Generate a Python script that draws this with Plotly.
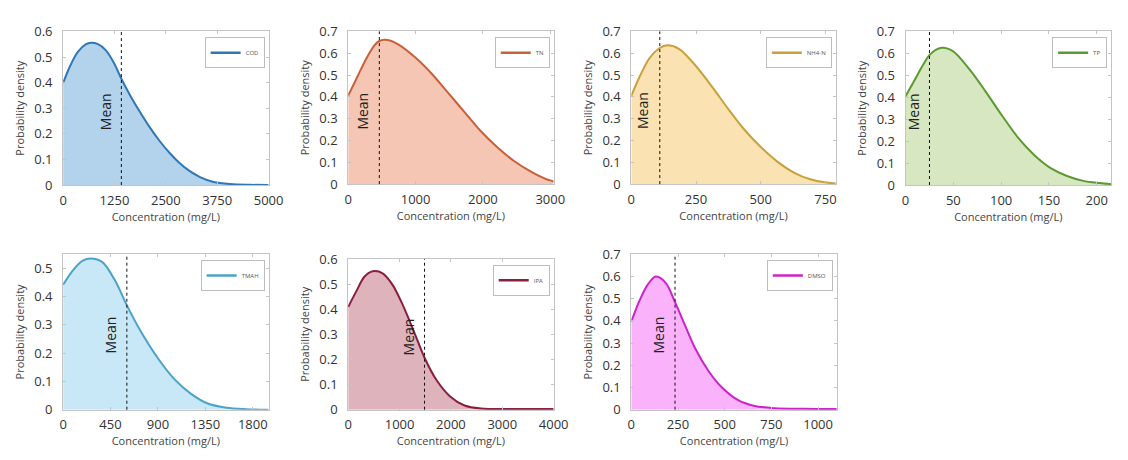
import plotly.graph_objects as go

# page body margin of the browser (8px) is compensated for
OFF = 8
W, H = 1128 - OFF, 460 - OFF

names = ["COD", "TN", "NH4-N", "TP", "TMAH", "IPA", "DMSO"]

cod_x = [0, 159, 358, 557, 677, 836, 1035, 1234, 1417, 1632, 1871, 2110, 2349, 2588, 2826, 3065, 3344, 3662, 4061, 4538, 5000]
cod_y = [0.398, 0.461, 0.520, 0.550, 0.556, 0.551, 0.527, 0.478, 0.415, 0.350, 0.285, 0.225, 0.172, 0.126, 0.087, 0.056, 0.030, 0.012, 0.004, 0.001, 0.0]

tn_x = [0, 122, 268, 389, 462, 540, 630, 754, 997, 1240, 1484, 1727, 1970, 2213, 2457, 2700, 2943, 3050]
tn_y = [0.406, 0.483, 0.575, 0.636, 0.656, 0.662, 0.657, 0.638, 0.580, 0.506, 0.418, 0.330, 0.242, 0.169, 0.107, 0.059, 0.022, 0.012]

nh4_x = [0, 32, 70, 110, 139, 184, 247, 311, 374, 437, 501, 564, 628, 691, 754, 790]
nh4_y = [0.404, 0.492, 0.577, 0.624, 0.636, 0.620, 0.545, 0.448, 0.345, 0.249, 0.169, 0.103, 0.053, 0.022, 0.007, 0.003]

tp_x = [0, 8.5, 18.8, 24.9, 37.5, 49.5, 66.5, 83.6, 100.7, 117.7, 134.8, 151.9, 168.9, 186, 203, 215]
tp_y = [0.405, 0.471, 0.551, 0.592, 0.625, 0.610, 0.529, 0.427, 0.318, 0.216, 0.136, 0.077, 0.041, 0.019, 0.009, 0.004]

tmah_x = [0, 93, 186, 264, 373, 497, 605, 745, 901, 1056, 1211, 1366, 1553, 1739, 1950]
tmah_y = [0.442, 0.493, 0.527, 0.535, 0.522, 0.454, 0.369, 0.272, 0.181, 0.108, 0.057, 0.023, 0.007, 0.002, 0.0]

ipa_x = [0, 159, 319, 478, 670, 861, 1053, 1276, 1486, 1722, 1978, 2265, 2584, 3222, 4000]
ipa_y = [0.409, 0.472, 0.530, 0.551, 0.543, 0.498, 0.421, 0.313, 0.207, 0.117, 0.054, 0.017, 0.005, 0.003, 0.003]

dmso_x = [0, 44, 88, 132, 185, 234, 290, 343, 414, 484, 572, 660, 766, 924, 1100]
dmso_y = [0.397, 0.491, 0.563, 0.599, 0.570, 0.484, 0.375, 0.274, 0.173, 0.101, 0.043, 0.017, 0.007, 0.004, 0.003]

xs = [cod_x, tn_x, nh4_x, tp_x, tmah_x, ipa_x, dmso_x]
ys = [cod_y, tn_y, nh4_y, tp_y, tmah_y, ipa_y, dmso_y]

means = [1417, 462, 110, 25, 605, 1486, 234]

x_max = [5000, 3050, 790, 215, 1950, 4000, 1100]
x_ticks = [
    [0, 1250, 2500, 3750, 5000],
    [0, 1000, 2000, 3000],
    [0, 250, 500, 750],
    [0, 50, 100, 150, 200],
    [0, 450, 900, 1350, 1800],
    [0, 1000, 2000, 3000, 4000],
    [0, 250, 500, 750, 1000],
]
y_max = [0.6, 0.7, 0.7, 0.7, 0.55, 0.6, 0.7]

line_colors = ["#2f78b5", "#c9603a", "#c9a03a", "#5b9a2e", "#4aa3c8", "#8a1f3d", "#cc22cc"]
fill_colors = ["#b3d2ec", "#f4c6b3", "#fbe2b2", "#d6e7c1", "#c8e8f8", "#dfb3bc", "#fab2fa"]

# plot boxes in page pixels: x0, x1, y0(top), y1(bottom)
boxes = [
    (60, 269, 23, 183),
    (350, 559, 23, 182),
    (638, 846, 23, 182),
    (917, 1126, 23, 183),
    (60, 269, 255, 417),
    (350, 559, 260, 417),
    (638, 847, 255, 417),
]

FONT = "Open Sans"
fig = go.Figure()
layout = dict(
    width=W, height=H,
    margin=dict(l=0, r=0, t=0, b=0),
    paper_bgcolor="white", plot_bgcolor="white",
    font=dict(family=FONT, color="#333"),
    showlegend=True,
)
annotations = []
shapes = []


def px_x(p):
    return (p - OFF) / W


def px_y(p):
    return 1 - (p - OFF) / H


for i in range(7):
    k = i + 1
    sfx = "" if k == 1 else str(k)
    x0, x1, y0, y1 = boxes[i]
    legname = "legend" if k == 1 else f"legend{k}"
    fig.add_trace(go.Scatter(
        x=xs[i], y=ys[i], mode="lines", name=names[i], showlegend=False,
        line=dict(color=line_colors[i], width=2, shape="spline", smoothing=0.9),
        fill="tozeroy", fillcolor=fill_colors[i],
        xaxis=f"x{sfx}", yaxis=f"y{sfx}",
    ))
    # legend entry (line swatch only)
    fig.add_trace(go.Scatter(
        x=[None], y=[None], mode="lines", name=names[i], showlegend=True,
        line=dict(color=line_colors[i], width=2.5),
        xaxis=f"x{sfx}", yaxis=f"y{sfx}", legend=legname,
    ))
    axcommon = dict(
        showline=True, linecolor="#c4c4c4", linewidth=1, mirror="ticks",
        ticks="inside", ticklen=3, tickcolor="#c4c4c4",
        showgrid=False, zeroline=False,
        tickfont=dict(size=13, color="#333", family=FONT),
    )
    layout[f"xaxis{sfx}"] = dict(
        axcommon, domain=[px_x(x0), px_x(x1)], anchor=f"y{sfx}",
        range=[0, x_max[i]], tickmode="array", tickvals=x_ticks[i],
        title=dict(text="Concentration (mg/L)", font=dict(size=11, color="#444"), standoff=2),
        ticklabelstandoff=3,
    )
    layout[f"yaxis{sfx}"] = dict(
        axcommon, domain=[px_y(y1), px_y(y0)], anchor=f"x{sfx}",
        range=[0, y_max[i]], dtick=0.1, tick0=0,
        title=dict(text="Probability density", font=dict(size=11, color="#444"), standoff=7),
        ticklabelstandoff=7,
    )
    layout[legname] = dict(
        x=px_x(x1 - 4), xanchor="right", y=px_y(y0 + 6), yanchor="top",
        bgcolor="white", bordercolor="#bdbdbd", borderwidth=1,
        font=dict(size=6, color="#555", family=FONT),
        itemwidth=30, tracegroupgap=0,
    )
    shapes.append(dict(
        type="line", xref=f"x{sfx}", yref=f"y{sfx} domain",
        x0=means[i], x1=means[i], y0=0, y1=1,
        line=dict(color="#111", width=1, dash="dot"),
    ))
    annotations.append(dict(
        text="Mean", xref=f"x{sfx}", yref=f"y{sfx} domain",
        x=means[i], y=0.48, xanchor="right", yanchor="middle",
        textangle=-90, showarrow=False, xshift=-5,
        font=dict(size=14, color="#222", family=FONT),
    ))

layout["annotations"] = annotations
layout["shapes"] = shapes
fig.update_layout(**layout)
fig.write_html("out.html")
